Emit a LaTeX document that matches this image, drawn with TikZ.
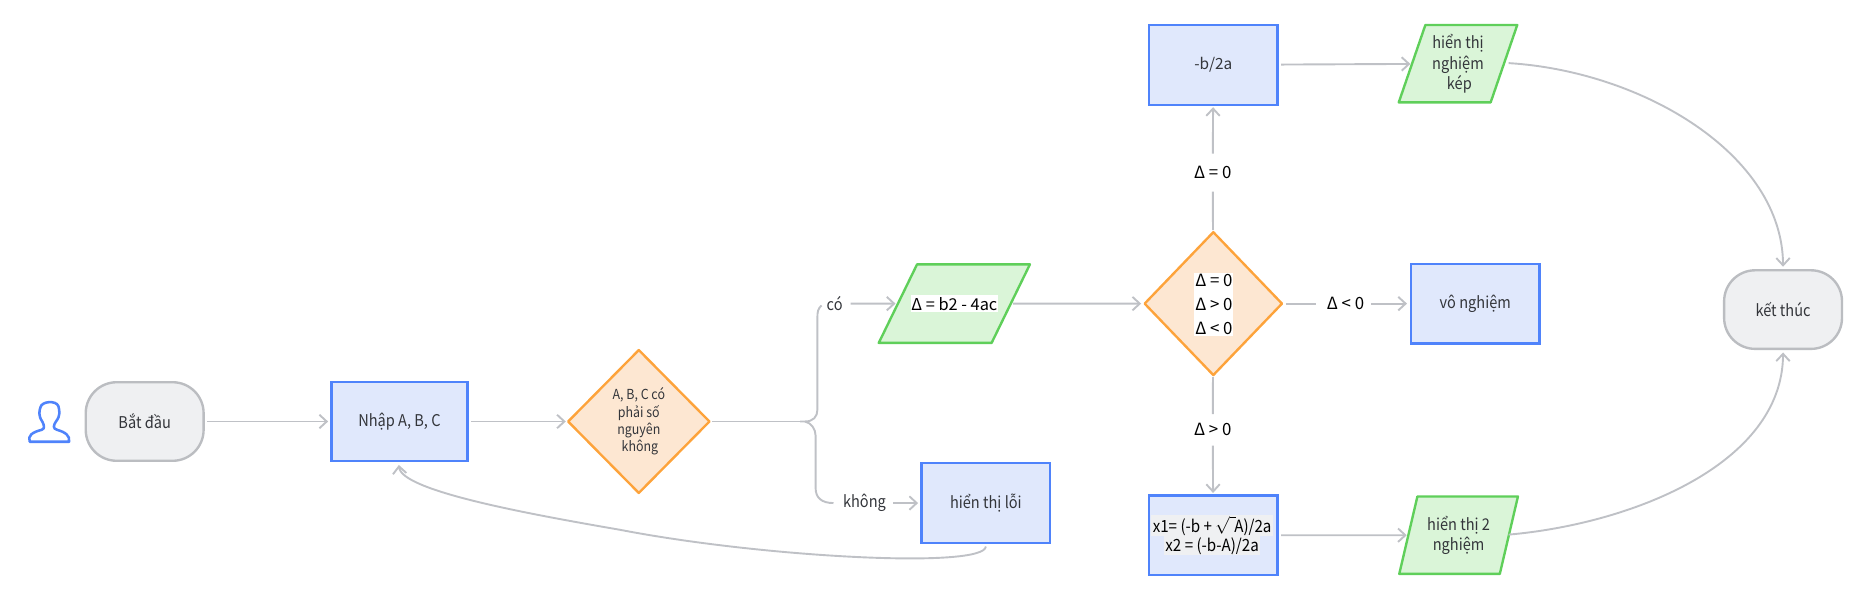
\documentclass[tikz,border=0pt]{standalone}
\usepackage{fontspec}
\setmainfont[FakeStretch=0.9]{Noto Sans CJK SC}
\newfontfamily\dfont{Noto Sans CJK SC}
\usetikzlibrary{shapes.geometric,arrows.meta}
\definecolor{txt}{HTML}{33353A}
\definecolor{connc}{HTML}{BFC1C6}
\definecolor{bluel}{HTML}{4F83FB}
\definecolor{bluef}{HTML}{E0E8FC}
\definecolor{orl}{HTML}{FDA33B}
\definecolor{orf}{HTML}{FDE7D2}
\definecolor{grl}{HTML}{5FCF5A}
\definecolor{grf}{HTML}{DAF5D8}
\definecolor{gyl}{HTML}{BBBDC1}
\definecolor{gyf}{HTML}{EFF0F2}
\tikzset{
 every node/.style={text=txt,font=\fontsize{10.2}{13}\selectfont,align=center,inner sep=0pt,outer sep=0pt},
 termbox/.style={draw=gyl,fill=gyf,line width=1.5pt,rounded corners=19.5pt,minimum width=74.25pt,minimum height=49.5pt},
 procbox/.style={draw=bluel,fill=bluef,line width=1.5pt,minimum width=81pt,minimum height=50.25pt},
 diam/.style={shape=diamond,draw=orl,fill=orf,line width=1.5pt,line join=round,minimum width=86.5pt,minimum height=90pt},
 para/.style={shape=trapezium,trapezium left angle=67,trapezium right angle=113,trapezium stretches=true,draw=grl,fill=grf,line width=1.5pt,line join=round},
 flow/.style={draw=connc,line width=1.2pt,-{Straight Barb[length=4.6pt,width=8.5pt,line width=1.2pt]}},
 plainline/.style={draw=connc,line width=1.2pt},
 lab/.style={text=black,font=\dfont\fontsize{10.6}{15}\selectfont},
 hl/.style={fill=white,inner xsep=0.5pt,inner ysep=1pt,text=black,font=\dfont\fontsize{10.6}{15}\selectfont},
 hg/.style={fill=gyf,inner xsep=1pt,inner ysep=0.6pt,text=black,font=\fontsize{10.6}{13}\selectfont}
}
\begin{document}
\begin{tikzpicture}[x=0.75pt,y=-0.75pt]
\useasboundingbox (0,0) rectangle (1568,503);
% icon
\draw[bluel,line width=1.6pt,line join=round] (25,371) .. controls (23,366) and (27,363) .. (35,361) .. controls (38,360) and (37,357) .. (35.5,354) .. controls (32,349) and (33,345) .. (34,342) .. controls (35,337) and (47,336) .. (49,341) .. controls (50,345) and (51,349) .. (47,354) .. controls (45,357) and (44,360) .. (48,361) .. controls (55,363) and (59,366) .. (58,371) -- cycle;
% nodes
\node[termbox] (start) at (121.5,354) {Bắt đầu};
\node[procbox,minimum width=85.5pt,minimum height=49.5pt] (input) at (335.5,354) {Nhập A, B, C};
\node[diam,minimum width=89pt,font=\fontsize{8.7}{11}\selectfont] (d1) at (536.5,354) {A, B, C có\\phải số\\nguyên\\\,không};
\node[para,minimum width=95.25pt,minimum height=49.5pt] (p1) at (801.5,255) {\phantom{x}};
\node[hl,font=\dfont\fontsize{10.3}{15}\selectfont] (p1t) at (801.5,255) {Δ = b2 - 4ac};
\node[diam] (d2) at (1019,255) {};
\node[hl] (d2t) at (1019.5,255.5) {Δ = 0\\Δ > 0\\Δ < 0};
\node[procbox,font=\dfont\fontsize{9.7}{13}\selectfont] (dbl) at (1019,54.5) {-b/2a};
\node[procbox] (none) at (1239,255) {vô nghiệm};
\node[procbox] (two) at (1019,449.5) {};
\node[hg] (twoa) at (1018,441.5) {x1= (-b + $\sqrt{\phantom{\vphantom{A}i}}$\kern-1pt A)/2a};
\node[hg] (twob) at (1018,458.5) {x2 = (-b-A)/2a};
\node[procbox] (err) at (828,422.5) {hiển thị lỗi};
\node[para,minimum width=75pt,minimum height=48.75pt,trapezium left angle=70.5,trapezium right angle=109.5] (p2) at (1224.5,53.5) {hiển thị\\nghiệm\\\,kép};
\node[para,minimum width=75pt,minimum height=48.75pt,trapezium left angle=70.5,trapezium right angle=109.5] (p3) at (1225,449.5) {hiển thị 2\\nghiệm};
\node[termbox] (end) at (1497.5,260) {kết thúc};
% labels
\node (co) at (701,255) {có};
\node (khong) at (726,422.5) {không};
\node[lab] (l0) at (1018.5,145) {Δ = 0};
\node[lab] (l1) at (1018.5,361) {Δ > 0};
\node[lab] (l2) at (1130,255) {Δ < 0};
% helpers
\coordinate (jn) at (672,354);
\coordinate (upend) at (690,256.5);
\coordinate (err0) at (828,459);
\coordinate (errin) at (335,390.5);
\coordinate (p2o) at (1267,53);
\coordinate (p3o) at (1267,449);
\coordinate (endt) at (1497.5,224);
\coordinate (endb) at (1497.5,296);
% connectors
\draw[flow,shorten <=2.2pt,shorten >=2.2pt] (start) -- (input);
\draw[flow,shorten <=2.2pt,shorten >=1.5pt] (input) -- (d1);
\draw[plainline,shorten <=1.5pt] (d1) -- (jn);
\draw[plainline] (jn) -- (676,354) .. controls (683,354) and (686.5,350) .. (686.5,344) -- (686.5,266) .. controls (686.5,262) and (687,259) .. (upend);
\draw[plainline] (676,354) .. controls (681,355) and (685,360) .. (685,366) -- (685,410) .. controls (685,418) and (690,422.5) .. (700,422.5);
\draw[flow,shorten <=5pt,shorten >=1.5pt] (co) -- (p1);
\draw[flow,shorten <=4.5pt,shorten >=2.2pt] (khong) -- (err);
\draw[flow,shorten <=1.5pt,shorten >=2.2pt] (p1) -- (d2);
\draw[plainline,shorten <=1.5pt,shorten >=8pt] (d2) -- (l0);
\draw[flow,shorten <=8pt,shorten >=1.5pt] (l0) -- (dbl);
\draw[plainline,shorten <=1.5pt,shorten >=6pt] (d2) -- (l1);
\draw[flow,shorten <=6pt,shorten >=1.5pt] (l1) -- (two);
\draw[plainline,shorten <=2.5pt,shorten >=7pt] (d2) -- (l2);
\draw[flow,shorten <=4.5pt,shorten >=2.5pt] (l2) -- (none);
\draw[flow,shorten <=2.2pt,shorten >=1pt] (dbl) -- (p2);
\draw[flow,shorten <=2.2pt,shorten >=1pt] (two) -- (p3);
\draw[flow] (err0) .. controls (826,478) and (640,468) .. (521,445) .. controls (440,431) and (337,412) .. (errin);
\draw[flow] (p2o) .. controls (1380,60) and (1497,130) .. (endt);
\draw[flow] (p3o) .. controls (1370,440) and (1497,390) .. (endb);
\end{tikzpicture}
\end{document}
